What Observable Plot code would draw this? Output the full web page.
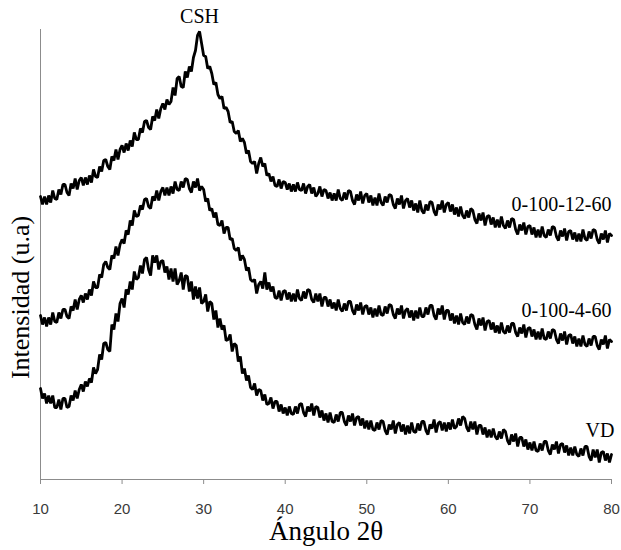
<!DOCTYPE html>
<html><head><meta charset="utf-8">
<script src="https://cdn.jsdelivr.net/npm/d3@7"></script>
<script src="https://cdn.jsdelivr.net/npm/@observablehq/plot@0.6"></script>
<style>body{margin:0;background:#fff}</style>
</head><body><div id="chart"></div>
<script>
const xTicks = [10, 20, 30, 40, 50, 60, 70, 80];
const seriesNames = ["0-100-12-60", "0-100-4-60", "VD"];
const peakLabel = "CSH";
const xTitle = "Ángulo 2θ";
const yTitle = "Intensidad (u.a)";
const angleStart = 10, angleStep = 0.25;

// intensities (arbitrary units), one value every 0.25° from 10° to 80°
const s1 = [
283,275,283,275, 284,277,289,281, 280,290,285,295, 295,287,284,296, 291,301,290,299,
302,294,302,295, 304,297,310,303, 302,313,308,319, 320,313,310,323, 319,330,320,330,
334,327,336,329, 339,333,347,340, 340,351,347,358, 359,352,350,363, 359,370,361,371,
376,370,380,375, 378,392,384,401, 403,393,392,408, 402,413,408,422, 429,444,448,436,
424,423,411,413, 406,395,397,385, 381,383,371,372, 368,357,358,348, 346,349,338,341,
337,326,329,318, 316,318,306,316, 322,313,316,304, 306,298,303,294, 293,300,291,298,
297,290,296,288, 295,288,297,290, 289,296,286,293, 295,286,292,283, 286,293,283,290,
289,281,287,279, 286,279,290,281, 279,287,280,289, 288,279,275,285, 279,288,276,284,
286,277,284,274, 282,274,286,277, 274,283,277,285, 284,275,271,281, 275,284,271,279,
281,272,279,269, 276,267,279,269, 266,275,269,278, 277,268,264,275, 270,279,267,275,
277,268,275,265, 272,263,273,264, 261,269,262,271, 269,260,256,266, 259,267,254,263,
264,255,262,252, 260,252,263,254, 251,259,252,261, 260,250,245,255, 249,257,245,253,
254,245,252,242, 250,242,253,244, 242,250,244,253, 252,243,239,249, 243,251,239,248,
249,240,247,238, 246,238,250,241, 239,248,241,250, 249,240,236,246, 240,249,237,246,
244];
const s2 = [
164,155,162,153, 162,155,167,158, 157,167,161,170, 170,163,161,173, 169,180,170,180,
184,177,186,180, 190,184,198,192, 192,205,202,215, 218,212,210,224, 221,233,224,235,
240,236,249,245, 259,254,269,263, 264,274,270,280, 281,273,271,283, 279,289,279,288,
292,284,292,284, 293,286,298,290, 289,298,292,301, 300,291,287,298, 292,301,289,293,
290,278,281,269, 271,262,267,255, 254,259,246,252, 252,240,241,231, 229,232,219,224,
220,209,212,200, 198,200,186,195, 198,191,207,190, 197,188,193,182, 181,189,179,188,
189,180,187,178, 186,178,190,181, 179,188,181,190, 189,180,177,186, 178,186,173,182,
182,173,180,171, 177,169,180,171, 168,176,169,178, 178,169,165,175, 169,177,165,173,
174,165,172,162, 171,163,174,165, 164,173,166,175, 174,165,161,171, 165,174,161,169,
171,162,169,159, 169,161,172,163, 163,172,165,174, 174,164,160,171, 165,174,160,169,
169,159,166,156, 164,155,166,157, 155,163,156,165, 164,155,150,161, 154,162,149,158,
159,150,157,147, 154,146,157,148, 146,154,147,156, 156,147,143,152, 146,155,142,151,
152,143,150,140, 148,140,151,141, 140,148,141,150, 149,140,136,146, 139,148,135,144,
145,136,143,133, 141,133,144,135, 133,141,134,143, 143,134,130,140, 135,144,131,140,
138];
const s3 = [
91,81,86,76, 84,76,84,72, 72,80,70,81, 81,72,73,84, 79,89,81,90,
95,88,98,93, 101,97,112,106, 110,125,120,136, 137,130,128,155, 150,166,158,176,
181,172,190,185, 198,190,208,200, 202,214,206,220, 222,210,204,224, 217,224,210,218,
219,207,213,200, 211,198,211,195, 199,207,190,204, 203,188,198,180, 193,181,192,176,
178,185,168,178, 176,160,169,152, 161,150,154,139, 140,145,128,136, 134,118,123,106,
111,99,104,92, 90,96,84,90, 89,79,85,75, 76,82,71,78, 78,68,75,66,
72,64,73,66, 65,73,66,75, 76,67,63,73, 68,76,64,73, 72,62,69,59,
66,57,67,58, 57,65,58,67, 67,58,54,64, 58,66,54,62, 63,54,61,51,
59,50,59,50, 49,57,50,59, 58,49,45,55, 50,59,46,55, 57,48,55,45,
54,46,57,48, 47,56,49,58, 58,49,45,55, 51,60,47,56, 58,49,57,48,
57,50,60,51, 53,61,54,63, 61,52,48,58, 50,58,45,54, 54,45,52,42,
50,42,51,43, 40,48,41,50, 48,39,35,45, 38,46,33,42, 42,33,40,30,
37,29,38,29, 28,36,29,38, 38,29,25,35, 30,38,26,35, 36,27,34,24,
32,24,33,25, 23,31,24,33, 33,23,19,30, 22,30,17,27, 28,19,26,17,
25];

const series = [s1, s2, s3];
const rows = [];
series.forEach((s, k) => s.forEach((v, i) => rows.push({name: seriesNames[k], x: angleStart + i * angleStep, y: v})));
const lastAngle = angleStart + (s1.length - 1) * angleStep;
const peakIndex = d3.maxIndex(s1);

const serif = "'Liberation Serif', 'Times New Roman', serif";
const labelStyle = {fontFamily: serif, fontSize: 20, fill: "black", text: d => d};

const chart = Plot.plot({
  width: 621, height: 550,
  marginLeft: 40, marginRight: 10, marginTop: 29, marginBottom: 71,
  style: {background: "white", fontFamily: "'Liberation Sans', sans-serif"},
  x: {domain: [10, 80]},
  y: {domain: [0, 450], axis: null},
  marks: [
    Plot.ruleX([10], {stroke: "#8c8c8c"}),
    Plot.ruleY([0], {stroke: "#8c8c8c"}),
    Plot.axisX({ticks: xTicks, tickSize: 5, tickPadding: 19, stroke: "#8c8c8c", fill: "#3a3a3a", fontSize: 15, label: null, tickFormat: d => d}),
    Plot.lineY(rows, {x: "x", y: "y", z: "name", stroke: "black", strokeWidth: 2.8, strokeLinejoin: "miter", curve: "linear"}),
    Plot.text([peakLabel], {...labelStyle, x: () => angleStart + peakIndex * angleStep, y: () => s1[peakIndex], dy: -15}),
    Plot.text([seriesNames[0]], {...labelStyle, x: () => lastAngle, y: () => s1[s1.length - 1], textAnchor: "end", dy: -31}),
    Plot.text([seriesNames[1]], {...labelStyle, x: () => lastAngle, y: () => s2[s2.length - 1], textAnchor: "end", dy: -31}),
    Plot.text([seriesNames[2]], {...labelStyle, x: () => lastAngle, y: () => s3[s3.length - 1], textAnchor: "end", dx: 3, dy: -24}),
    Plot.text([xTitle], {frameAnchor: "bottom", dy: 60, fontFamily: serif, fontSize: 27, fill: "black", text: d => d}),
    Plot.text([yTitle], {frameAnchor: "left", textAnchor: "middle", dx: -20, dy: 43, rotate: -90, fontFamily: serif, fontSize: 26, fill: "black", text: d => d})
  ]
});
document.getElementById("chart").append(chart);
</script>
</body></html>
